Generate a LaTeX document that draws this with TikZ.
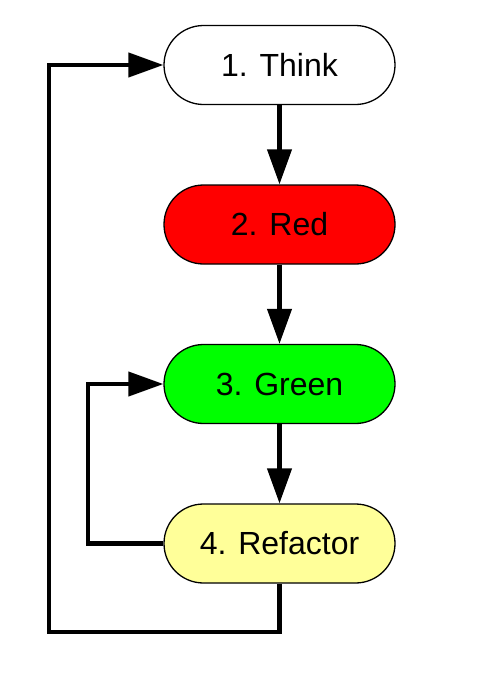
\documentclass[tikz,border=0pt]{standalone}
\usepackage{fontspec}
\setmainfont{Liberation Sans}
\usetikzlibrary{arrows.meta}
\definecolor{refyellow}{HTML}{FFFF99}
\begin{document}
\begin{tikzpicture}[x=1pt,y=-1pt,
  stepnode/.style={draw=black,line width=1.3pt,rounded corners=39.5pt,
    minimum width=231pt,minimum height=79pt,inner sep=0pt,
    font=\fontsize{32}{38}\selectfont},
  flow/.style={line width=4.2pt,-{Triangle[length=35pt,width=24pt]}},
  plain/.style={line width=4.2pt}]
\useasboundingbox (0,0) rectangle (482,689);
\node[stepnode,fill=white] (think) at (279.5,65) {1. Think};
\node[stepnode,fill=red] (red) at (279.5,224.5) {2. Red};
\node[stepnode,fill=green] (green) at (279.5,384) {3. Green};
\node[stepnode,fill=refyellow] (refactor) at (279.5,543.5) {4. Refactor};
\coordinate (b1) at (279.5,632);
\coordinate (b2) at (49,632);
\coordinate (b3) at (49,65);
\coordinate (i1) at (88,543.5);
\coordinate (i2) at (88,384);
\draw[flow] (think) -- (red);
\draw[flow] (red) -- (green);
\draw[flow] (green) -- (refactor);
\draw[flow] (refactor.south) -- (b1) -- (b2) -- (b3) -- (think.west);
\draw[flow] (refactor.west) -- (i1) -- (i2) -- (green.west);
\end{tikzpicture}
\end{document}
